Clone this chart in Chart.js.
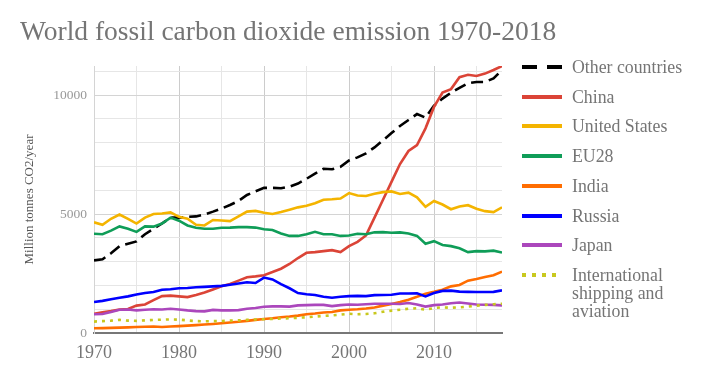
<!DOCTYPE html>
<html>
<head>
<meta charset="utf-8">
<script src="https://cdn.jsdelivr.net/npm/chart.js@4/dist/chart.umd.min.js"></script>
<style>
  html, body { margin: 0; padding: 0; background: #ffffff; }
  #wrap { position: relative; width: 728px; height: 380px; }
  #c { position: absolute; left: 0; top: 0; }
  #legend { position: absolute; left: 0; top: 0; width: 728px; height: 380px; pointer-events: none;
            font-family: "Liberation Serif", "Times New Roman", serif; font-size: 17.8px; color: #757575; }
  .item { position: absolute; left: 522px; display: flex; align-items: flex-start; }
  .item svg { flex: none; margin-top: 5px; }
  .item span { margin-left: 10px; line-height: 18px; width: 140px; }
</style>
</head>
<body>
<div id="wrap">
  <canvas id="c" width="728" height="380"></canvas>
  <div id="legend"></div>
</div>
<script>
const titleText = "World fossil carbon dioxide emission 1970-2018";
const yAxisTitle = "Million tonnes CO2/year";

const years = [1970,1971,1972,1973,1974,1975,1976,1977,1978,1979,
               1980,1981,1982,1983,1984,1985,1986,1987,1988,1989,
               1990,1991,1992,1993,1994,1995,1996,1997,1998,1999,
               2000,2001,2002,2003,2004,2005,2006,2007,2008,2009,
               2010,2011,2012,2013,2014,2015,2016,2017,2018];

const seriesNames = ["Other countries","China","United States","EU28","India","Russia","Japan","International shipping and aviation"];

const otherCountries = [3050,3100,3350,3650,3750,3850,4150,4380,4600,4850,
                        4850,4880,4900,4980,5100,5230,5380,5550,5800,5950,
                        6100,6100,6080,6150,6280,6480,6700,6900,6880,6980,
                        7250,7380,7550,7800,8100,8400,8700,8950,9200,9050,
                        9550,9850,10100,10300,10500,10550,10550,10700,11050];
const china = [810,870,920,990,1010,1150,1200,1380,1550,1570,
               1540,1510,1600,1700,1830,1960,2060,2200,2340,2380,
               2430,2560,2700,2900,3150,3370,3400,3440,3480,3400,
               3650,3830,4100,4850,5600,6350,7100,7650,7900,8600,
               9500,10100,10250,10750,10850,10800,10900,11050,11220];
const unitedStates = [4650,4550,4800,4980,4800,4600,4850,5000,5020,5070,
                      4880,4800,4550,4520,4750,4730,4700,4900,5100,5130,
                      5050,5000,5080,5180,5280,5350,5450,5600,5620,5650,
                      5880,5780,5760,5850,5920,5950,5840,5900,5700,5300,
                      5550,5400,5200,5320,5370,5220,5120,5080,5280];
const eu28 = [4170,4150,4300,4480,4380,4250,4480,4470,4600,4850,
              4720,4520,4420,4380,4380,4420,4430,4450,4450,4430,
              4360,4330,4180,4080,4080,4150,4250,4150,4150,4080,
              4100,4170,4150,4230,4240,4210,4230,4180,4080,3750,
              3860,3700,3650,3560,3400,3440,3430,3460,3380];
const india = [200,205,215,225,235,250,265,275,250,275,
               290,310,330,355,380,410,440,470,510,550,
               590,620,660,690,730,790,820,860,880,950,
               980,1000,1030,1070,1150,1220,1300,1400,1520,1650,
               1730,1820,1960,2020,2200,2270,2350,2430,2580];
const russia = [1300,1350,1420,1480,1540,1620,1680,1720,1820,1840,
                1880,1890,1920,1940,1960,1980,2030,2080,2130,2100,
                2330,2250,2050,1880,1680,1630,1600,1520,1480,1520,
                1550,1560,1550,1590,1600,1610,1660,1660,1670,1540,
                1680,1770,1780,1740,1730,1720,1720,1730,1790];
const japan = [790,800,880,980,990,950,980,1000,990,1020,
               990,950,920,910,970,950,950,960,1020,1050,
               1100,1120,1120,1110,1160,1170,1180,1180,1130,1170,
               1200,1190,1210,1230,1230,1230,1220,1260,1200,1110,
               1170,1200,1250,1280,1240,1200,1190,1180,1160];
const shippingAviation = [480,500,520,550,520,510,530,550,560,570,
                          560,530,500,490,500,500,520,530,550,570,
                          580,590,610,620,640,660,690,720,740,770,
                          810,790,800,830,890,940,980,1020,1040,980,
                          1050,1080,1060,1080,1110,1150,1180,1210,1230];

const yTicks = [0,1000,2000,3000,4000,5000,6000,7000,8000,9000,10000,11000];
const xTicks = [1970,1975,1980,1985,1990,1995,2000,2005,2010,2015];

const seriesValues = [otherCountries, china, unitedStates, eu28, india, russia, japan, shippingAviation];
const seriesColors = ["#000000","#db4437","#f4b400","#0f9d58","#ff6d01","#0000ff","#ab47bc","#c8c81e"];
const seriesDash = [[12,6],[],[],[],[],[],[],[3,5]];
const legendDash = ["15 10","","","","","","","4 6"];

const serif = '"Liberation Serif", "Times New Roman", serif';

const datasets = seriesNames.map((name, i) => ({
  label: name,
  data: seriesValues[i],
  borderColor: seriesColors[i],
  backgroundColor: seriesColors[i],
  borderWidth: 2.6,
  borderDash: seriesDash[i],
  borderCapStyle: 'butt',
  pointRadius: 0,
  tension: 0,
  fill: false,
  yAxisID: 'y',
  order: seriesNames.length - i
}));

const chart = new Chart(document.getElementById('c'), {
  type: 'line',
  data: { labels: years, datasets },
  options: {
    responsive: false,
    animation: false,
    layout: { padding: { left: 20, right: 0, top: 0, bottom: 0 } },
    plugins: {
      legend: { display: false },
      tooltip: { enabled: false },
      title: {
        display: true, text: titleText, align: 'start',
        color: '#757575',
        font: { family: serif, size: 27.5, weight: 'normal' },
        padding: { top: 16, bottom: 17 }
      }
    },
    scales: {
      x: {
        type: 'linear', min: 1970, max: 2018,
        afterBuildTicks: s => { s.ticks = xTicks.map(v => ({ value: v })); },
        afterFit: s => { s.height = 47; },
        grid: {
          color: ctx => (ctx.tick && ctx.tick.value % 10 === 0) ? '#cccccc' : '#e6e6e6',
          drawTicks: false
        },
        border: { color: '#777777', width: 2 },
        ticks: {
          autoSkip: false, maxRotation: 0, padding: 9, color: '#757575',
          font: { family: serif, size: 18 },
          callback: v => (v % 10 === 0 ? String(v) : '')
        }
      },
      y: {
        type: 'linear', min: 0, max: 11220,
        afterBuildTicks: s => { s.ticks = yTicks.map(v => ({ value: v })); },
        afterFit: s => { s.width = 74; },
        grid: {
          color: ctx => (ctx.tick && ctx.tick.value % 5000 === 0) ? '#d4d4d4' : '#e6e6e6',
          drawTicks: false
        },
        border: { color: '#d4d4d4', width: 1 },
        ticks: {
          autoSkip: false, padding: 7, color: '#999999',
          font: { family: serif, size: 13.5 },
          callback: v => (v % 5000 === 0 ? String(v) : '')
        },
        title: {
          display: true, text: yAxisTitle, color: '#555555',
          font: { family: serif, size: 13 }, padding: { top: 2, bottom: 0 }
        }
      },
      legendSpace: {
        type: 'linear', position: 'right', display: true, min: 0, max: 1,
        afterFit: s => { s.width = 226; },
        grid: { drawOnChartArea: false, drawTicks: false },
        border: { display: false },
        ticks: { display: false }
      }
    }
  }
});

// HTML legend built from the chart's datasets
const legendEl = document.getElementById('legend');
chart.data.datasets.forEach((ds, i) => {
  const item = document.createElement('div');
  item.className = 'item';
  item.style.top = (58 + i * 29.7) + 'px';
  const svgNS = 'http://www.w3.org/2000/svg';
  const svg = document.createElementNS(svgNS, 'svg');
  svg.setAttribute('width', '40'); svg.setAttribute('height', '8');
  const ln = document.createElementNS(svgNS, 'line');
  ln.setAttribute('x1', '0'); ln.setAttribute('x2', '40');
  ln.setAttribute('y1', '4'); ln.setAttribute('y2', '4');
  ln.setAttribute('stroke', ds.borderColor);
  ln.setAttribute('stroke-width', '4');
  if (legendDash[i]) ln.setAttribute('stroke-dasharray', legendDash[i]);
  svg.appendChild(ln);
  const span = document.createElement('span');
  span.textContent = ds.label;
  item.appendChild(svg); item.appendChild(span);
  legendEl.appendChild(item);
});
</script>
</body>
</html>
